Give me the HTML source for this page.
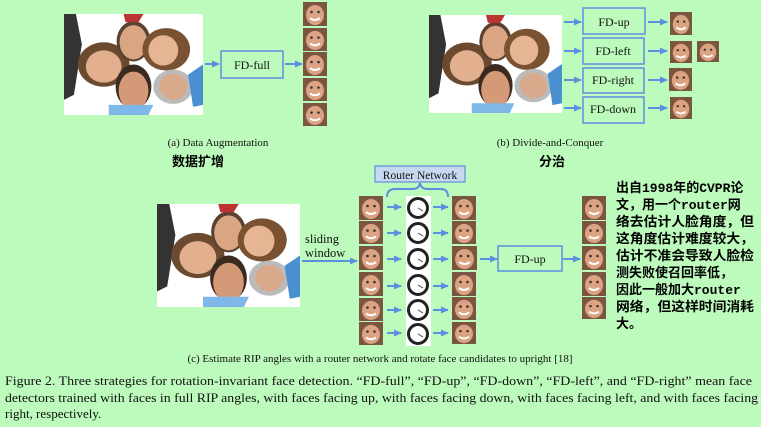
<!DOCTYPE html>
<html><head><meta charset="utf-8"><style>
html,body{margin:0;padding:0;background:#bdfbbd;}
body{width:761px;height:427px;overflow:hidden;position:relative;}
svg{position:absolute;left:0;top:0;}
.s{font-family:"Liberation Serif",serif;fill:#111;}
.cn{font-family:"Liberation Mono","Noto Sans CJK SC",monospace;font-weight:bold;fill:#000;}
</style></head><body>
<svg width="761" height="427" viewBox="0 0 761 427">
<defs>
<marker id="ar" markerWidth="8" markerHeight="8" refX="7" refY="4" orient="auto" markerUnits="userSpaceOnUse">
<path d="M0,0.5 L8,4 L0,7.5 z" fill="#5b8fe0"/></marker>
<symbol id="photo" viewBox="0 0 140 100" preserveAspectRatio="none">
<rect width="140" height="100" fill="#fff"/>
<path d="M0,0 L12,0 L18,30 L10,80 L0,85 z" fill="#333"/>
<ellipse cx="40" cy="50" rx="26" ry="22" fill="#6b4a30"/>
<ellipse cx="40" cy="52" rx="18" ry="16" fill="#e2b08e"/>
<ellipse cx="70" cy="27" rx="17" ry="20" fill="#5a4030"/>
<ellipse cx="70" cy="28" rx="14" ry="17" fill="#d9a583"/>
<ellipse cx="103" cy="35" rx="24" ry="21" fill="#7a5232"/>
<ellipse cx="100" cy="36" rx="15" ry="15" fill="#e6b694"/>
<ellipse cx="70" cy="72" rx="18" ry="22" fill="#3a2a20"/>
<ellipse cx="70" cy="76" rx="15" ry="19" fill="#d49a78"/>
<ellipse cx="110" cy="72" rx="20" ry="17" fill="#bbb"/>
<ellipse cx="110" cy="72" rx="14" ry="13" fill="#d8a98a"/>
<path d="M125,60 L140,50 L140,90 L130,92 z" fill="#4a8fd0"/>
<path d="M45,90 L90,90 L85,100 L45,100 z" fill="#7fb8e8"/>
<path d="M60,0 L80,0 L75,8 L62,8 z" fill="#b33"/>
</symbol>
<symbol id="face" viewBox="0 0 24 24" preserveAspectRatio="none">
<rect width="24" height="24" fill="#7a5540"/>
<ellipse cx="12" cy="13" rx="9" ry="10" fill="#dca383"/>
<path d="M7,16 Q12,20 17,16" stroke="#fff" stroke-width="2" fill="none"/>
<circle cx="8.5" cy="10" r="1.3" fill="#333"/><circle cx="15.5" cy="10" r="1.3" fill="#333"/>
</symbol>
<symbol id="dial" viewBox="0 0 24 24">
<circle cx="12" cy="12" r="9.5" fill="#fff" stroke="#222" stroke-width="3"/>
<line x1="12" y1="12" x2="17" y2="15" stroke="#444" stroke-width="1"/>
</symbol>
</defs>
<g stroke="#5b8fe0" stroke-width="2" fill="none">
<line x1="205" y1="64" x2="219" y2="64" marker-end="url(#ar)"/>
<line x1="285" y1="64" x2="302" y2="64" marker-end="url(#ar)"/>
<line x1="564" y1="22" x2="581" y2="22" marker-end="url(#ar)"/>
<line x1="564" y1="51" x2="581" y2="51" marker-end="url(#ar)"/>
<line x1="564" y1="80" x2="581" y2="80" marker-end="url(#ar)"/>
<line x1="564" y1="108" x2="581" y2="108" marker-end="url(#ar)"/>
<line x1="648" y1="22" x2="667" y2="22" marker-end="url(#ar)"/>
<line x1="648" y1="51" x2="667" y2="51" marker-end="url(#ar)"/>
<line x1="648" y1="80" x2="667" y2="80" marker-end="url(#ar)"/>
<line x1="648" y1="108" x2="667" y2="108" marker-end="url(#ar)"/>
<line x1="302" y1="261" x2="357" y2="261" marker-end="url(#ar)"/>
<line x1="480" y1="259" x2="497" y2="259" marker-end="url(#ar)"/>
<line x1="563" y1="259" x2="580" y2="259" marker-end="url(#ar)"/>
<path d="M387,197 Q387,189 395,189 L413,189 Q419,189 420,183 Q421,189 427,189 L441,189 Q448,189 448,197"/>
<line x1="387" y1="207" x2="401" y2="207" marker-end="url(#ar)"/>
<line x1="387" y1="233" x2="401" y2="233" marker-end="url(#ar)"/>
<line x1="387" y1="259" x2="401" y2="259" marker-end="url(#ar)"/>
<line x1="387" y1="286" x2="401" y2="286" marker-end="url(#ar)"/>
<line x1="387" y1="310" x2="401" y2="310" marker-end="url(#ar)"/>
<line x1="387" y1="333" x2="401" y2="333" marker-end="url(#ar)"/>
<line x1="433" y1="207" x2="448" y2="207" marker-end="url(#ar)"/>
<line x1="433" y1="233" x2="448" y2="233" marker-end="url(#ar)"/>
<line x1="433" y1="259" x2="448" y2="259" marker-end="url(#ar)"/>
<line x1="433" y1="286" x2="448" y2="286" marker-end="url(#ar)"/>
<line x1="433" y1="310" x2="448" y2="310" marker-end="url(#ar)"/>
<line x1="433" y1="333" x2="448" y2="333" marker-end="url(#ar)"/>
</g>
<g fill="none" stroke="#5b8fe0" stroke-width="1.5">
<rect x="221" y="51" width="62" height="27"/>
<rect x="583" y="8" width="62" height="26"/>
<rect x="583" y="38" width="61" height="26"/>
<rect x="583" y="68" width="61" height="25"/>
<rect x="583" y="97" width="61" height="26"/>
<rect x="498" y="246" width="64" height="25"/>
</g>
<rect x="375" y="166" width="90" height="16" fill="#c8d8f0" stroke="#5b8fe0" stroke-width="1.2"/>
<use href="#photo" x="64" y="14" width="139" height="101"/>
<use href="#photo" x="429" y="15" width="133" height="98"/>
<use href="#photo" x="157" y="204" width="143" height="103"/>
<use href="#face" x="303" y="2" width="24" height="24"/>
<use href="#face" x="303" y="28" width="24" height="23"/>
<use href="#face" x="303" y="52" width="24" height="24"/>
<use href="#face" x="303" y="78" width="24" height="23"/>
<use href="#face" x="303" y="103" width="24" height="23"/>
<use href="#face" x="670" y="12" width="22" height="23"/>
<use href="#face" x="670" y="41" width="22" height="22"/>
<use href="#face" x="697" y="41" width="22" height="21"/>
<use href="#face" x="669" y="68" width="23" height="23"/>
<use href="#face" x="670" y="97" width="22" height="22"/>
<rect x="406" y="196" width="25" height="150" fill="#fff"/>
<use href="#face" x="359" y="196" width="24" height="24"/>
<use href="#face" x="359" y="221" width="24" height="23"/>
<use href="#face" x="359" y="246" width="24" height="24"/>
<use href="#face" x="359" y="272" width="24" height="24"/>
<use href="#face" x="359" y="298" width="24" height="23"/>
<use href="#face" x="359" y="322" width="24" height="23"/>
<use href="#dial" x="406" y="196" width="24" height="24"/>
<use href="#dial" x="406" y="221" width="24" height="24"/>
<use href="#dial" x="406" y="247" width="24" height="24"/>
<use href="#dial" x="406" y="273" width="24" height="24"/>
<use href="#dial" x="406" y="298" width="24" height="24"/>
<use href="#dial" x="406" y="322" width="24" height="24"/>
<use href="#face" x="452" y="196" width="24" height="24"/>
<use href="#face" x="452" y="221" width="24" height="23"/>
<use href="#face" x="452" y="246" width="25" height="24"/>
<use href="#face" x="452" y="272" width="24" height="24"/>
<use href="#face" x="452" y="297" width="24" height="23"/>
<use href="#face" x="452" y="322" width="24" height="22"/>
<use href="#face" x="582" y="196" width="24" height="24"/>
<use href="#face" x="582" y="221" width="24" height="23"/>
<use href="#face" x="582" y="246" width="24" height="24"/>
<use href="#face" x="582" y="272" width="24" height="24"/>
<use href="#face" x="582" y="297" width="24" height="22"/>
<g class="s" font-size="12" text-anchor="middle">
<text x="252" y="69">FD-full</text>
<text x="614" y="26">FD-up</text>
<text x="613" y="55">FD-left</text>
<text x="613" y="84">FD-right</text>
<text x="613" y="113">FD-down</text>
<text x="530" y="263">FD-up</text>
<text x="420" y="179" font-size="11.5">Router Network</text>
<text x="218" y="146" font-size="11">(a)  Data Augmentation</text>
<text x="550" y="146" font-size="11">(b)  Divide-and-Conquer</text>
<text x="380" y="362" font-size="11">(c)  Estimate RIP angles with a router network and rotate face candidates to upright [18]</text>
</g>
<g class="s" font-size="12.5">
<text x="305" y="243">sliding</text>
<text x="305" y="257">window</text>
</g>
<g class="s" font-size="13">
<text x="5" y="385" textLength="747" lengthAdjust="spacingAndGlyphs">Figure 2. Three strategies for rotation-invariant face detection.  “FD-full”, “FD-up”, “FD-down”, “FD-left”, and “FD-right” mean face</text>
<text x="5" y="402" textLength="753" lengthAdjust="spacingAndGlyphs">detectors trained with faces in full RIP angles, with faces facing up, with faces facing down, with faces facing left, and with faces facing</text>
<text x="5" y="418">right, respectively.</text>
</g>
<g class="cn" font-size="13" font-family="'Noto Sans CJK SC',sans-serif">
<text x="172" y="166">数据扩增</text>
<text x="539" y="166">分治</text>
</g>
<g class="cn" font-size="13">
<text x="616" y="192">出自1998年的CVPR论</text>
<text x="616" y="209">文，用一个router网</text>
<text x="616" y="226" textLength="138" lengthAdjust="spacingAndGlyphs">络去估计人脸角度，但</text>
<text x="616" y="243" textLength="138" lengthAdjust="spacingAndGlyphs">这角度估计难度较大，</text>
<text x="616" y="260" textLength="138" lengthAdjust="spacingAndGlyphs">估计不准会导致人脸检</text>
<text x="616" y="277">测失败使召回率低，</text>
<text x="616" y="294">因此一般加大router</text>
<text x="616" y="311" textLength="138" lengthAdjust="spacingAndGlyphs">网络，但这样时间消耗</text>
<text x="616" y="328">大。</text>
</g>
</svg>
</body></html>
